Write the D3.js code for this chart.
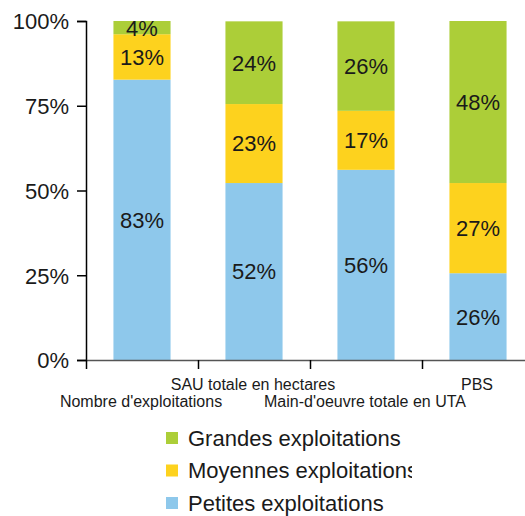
<!DOCTYPE html>
<html>
<head>
<meta charset="utf-8">
<script src="https://cdn.jsdelivr.net/npm/d3@7"></script>
<style>
  body { margin: 0; background: #fff; }
  text { font-family: "Liberation Sans", Arial, sans-serif; fill: #1a1a1a; }
</style>
</head>
<body>
<div id="chart"></div>
<script>
// data
let categories = ['Nombre d\'exploitations', 'SAU totale en hectares', 'Main-d\'oeuvre totale en UTA', 'PBS'];
let petites = [82.7, 52.2, 56.1, 25.6];
let moyennes = [13.4, 23.3, 17.4, 26.6];
let grandes = [3.9, 24.4, 26.4, 47.8];
let seriesNames = ['Petites exploitations', 'Moyennes exploitations', 'Grandes exploitations'];
let seriesColors = ['#8ec8eb', '#fdd21e', '#acce38'];
let yTicks = [0, 25, 50, 75, 100];

let width = 525, height = 516;

let svg = d3.select('#chart').append('svg')
  .attr('width', width)
  .attr('height', height);

let xScale = d3.scaleBand().domain(categories).range([86, 534])
  .paddingInner(0.49).paddingOuter(0.245);
let yScale = d3.scaleLinear().domain([0, 100]).range([360, 21]);

let table = categories.map(function (c, i) {
  return { cat: c, petites: petites[i], moyennes: moyennes[i], grandes: grandes[i] };
});
let stack = d3.stack().keys(['petites', 'moyennes', 'grandes'])(table);

// bars
let layers = svg.selectAll('.layer')
  .data(stack)
  .enter()
  .append('g')
  .attr('fill', function (d, i) { return seriesColors[i]; });

layers.selectAll('rect')
  .data(function (d) { return d; })
  .enter()
  .append('rect')
  .attr('x', function (d) { return xScale(d.data.cat); })
  .attr('y', function (d) { return yScale(d[1]); })
  .attr('width', xScale.bandwidth())
  .attr('height', function (d) { return yScale(d[0]) - yScale(d[1]); });

// value labels
layers.selectAll('text')
  .data(function (d) { return d; })
  .enter()
  .append('text')
  .attr('x', function (d) { return xScale(d.data.cat) + xScale.bandwidth() / 2; })
  .attr('y', function (d) { return (yScale(d[0]) + yScale(d[1])) / 2; })
  .attr('dy', '0.36em')
  .attr('text-anchor', 'middle')
  .style('font-size', '22px')
  .text(function (d) { return Math.round(d[1] - d[0]) + '%'; });

// y axis
let yAxis = svg.append('g')
  .attr('transform', 'translate(86,0)')
  .call(d3.axisLeft(yScale).tickValues(yTicks).tickSize(9).tickPadding(8)
    .tickFormat(function (d) { return d + '%'; }));
yAxis.selectAll('text').style('font-size', '22px').attr('dy', '0.36em');
yAxis.select('.domain').attr('stroke', '#000').attr('stroke-width', 1.5);
yAxis.selectAll('.tick line').attr('stroke', '#000').attr('stroke-width', 1.5);

// x axis, ticks between the bars
let step = xScale.step();
let xEdge = d3.scaleLinear().domain([0, 4]).range([86, 86 + step * 4]);
let xAxis = svg.append('g')
  .attr('transform', 'translate(0,360)')
  .call(d3.axisBottom(xEdge).tickValues([0, 1, 2, 3]).tickSize(9).tickSizeOuter(0)
    .tickFormat(''));
xAxis.select('.domain').attr('stroke', '#555').attr('stroke-width', 1.5);
xAxis.selectAll('.tick line').attr('stroke', '#000').attr('stroke-width', 1.5);

// category labels, staggered
svg.selectAll('.cat')
  .data(categories)
  .enter()
  .append('text')
  .attr('class', 'cat')
  .attr('x', function (d) { return xScale(d) + xScale.bandwidth() / 2 - 1; })
  .attr('y', function (d, i) { return i % 2 === 0 ? 407 : 390; })
  .attr('text-anchor', 'middle')
  .style('font-size', '16px')
  .text(function (d) { return d; });

// legend (clipped on the right like the original)
svg.append('clipPath').attr('id', 'legclip')
  .append('rect').attr('x', 150).attr('y', 415).attr('width', 262).attr('height', 101);

let legend = svg.append('g').attr('clip-path', 'url(#legclip)');
let legendOrder = [2, 1, 0];
let legendRows = legend.selectAll('g')
  .data(legendOrder)
  .enter()
  .append('g')
  .attr('transform', function (d, i) { return 'translate(166,' + (438 + i * 32.5) + ')'; });

legendRows.append('rect')
  .attr('x', 0).attr('y', -6)
  .attr('width', 12).attr('height', 12)
  .attr('fill', function (d) { return seriesColors[d]; });

legendRows.append('text')
  .attr('x', 22)
  .attr('dy', '0.36em')
  .style('font-size', '22px')
  .text(function (d) { return seriesNames[d]; });
</script>
</body>
</html>
